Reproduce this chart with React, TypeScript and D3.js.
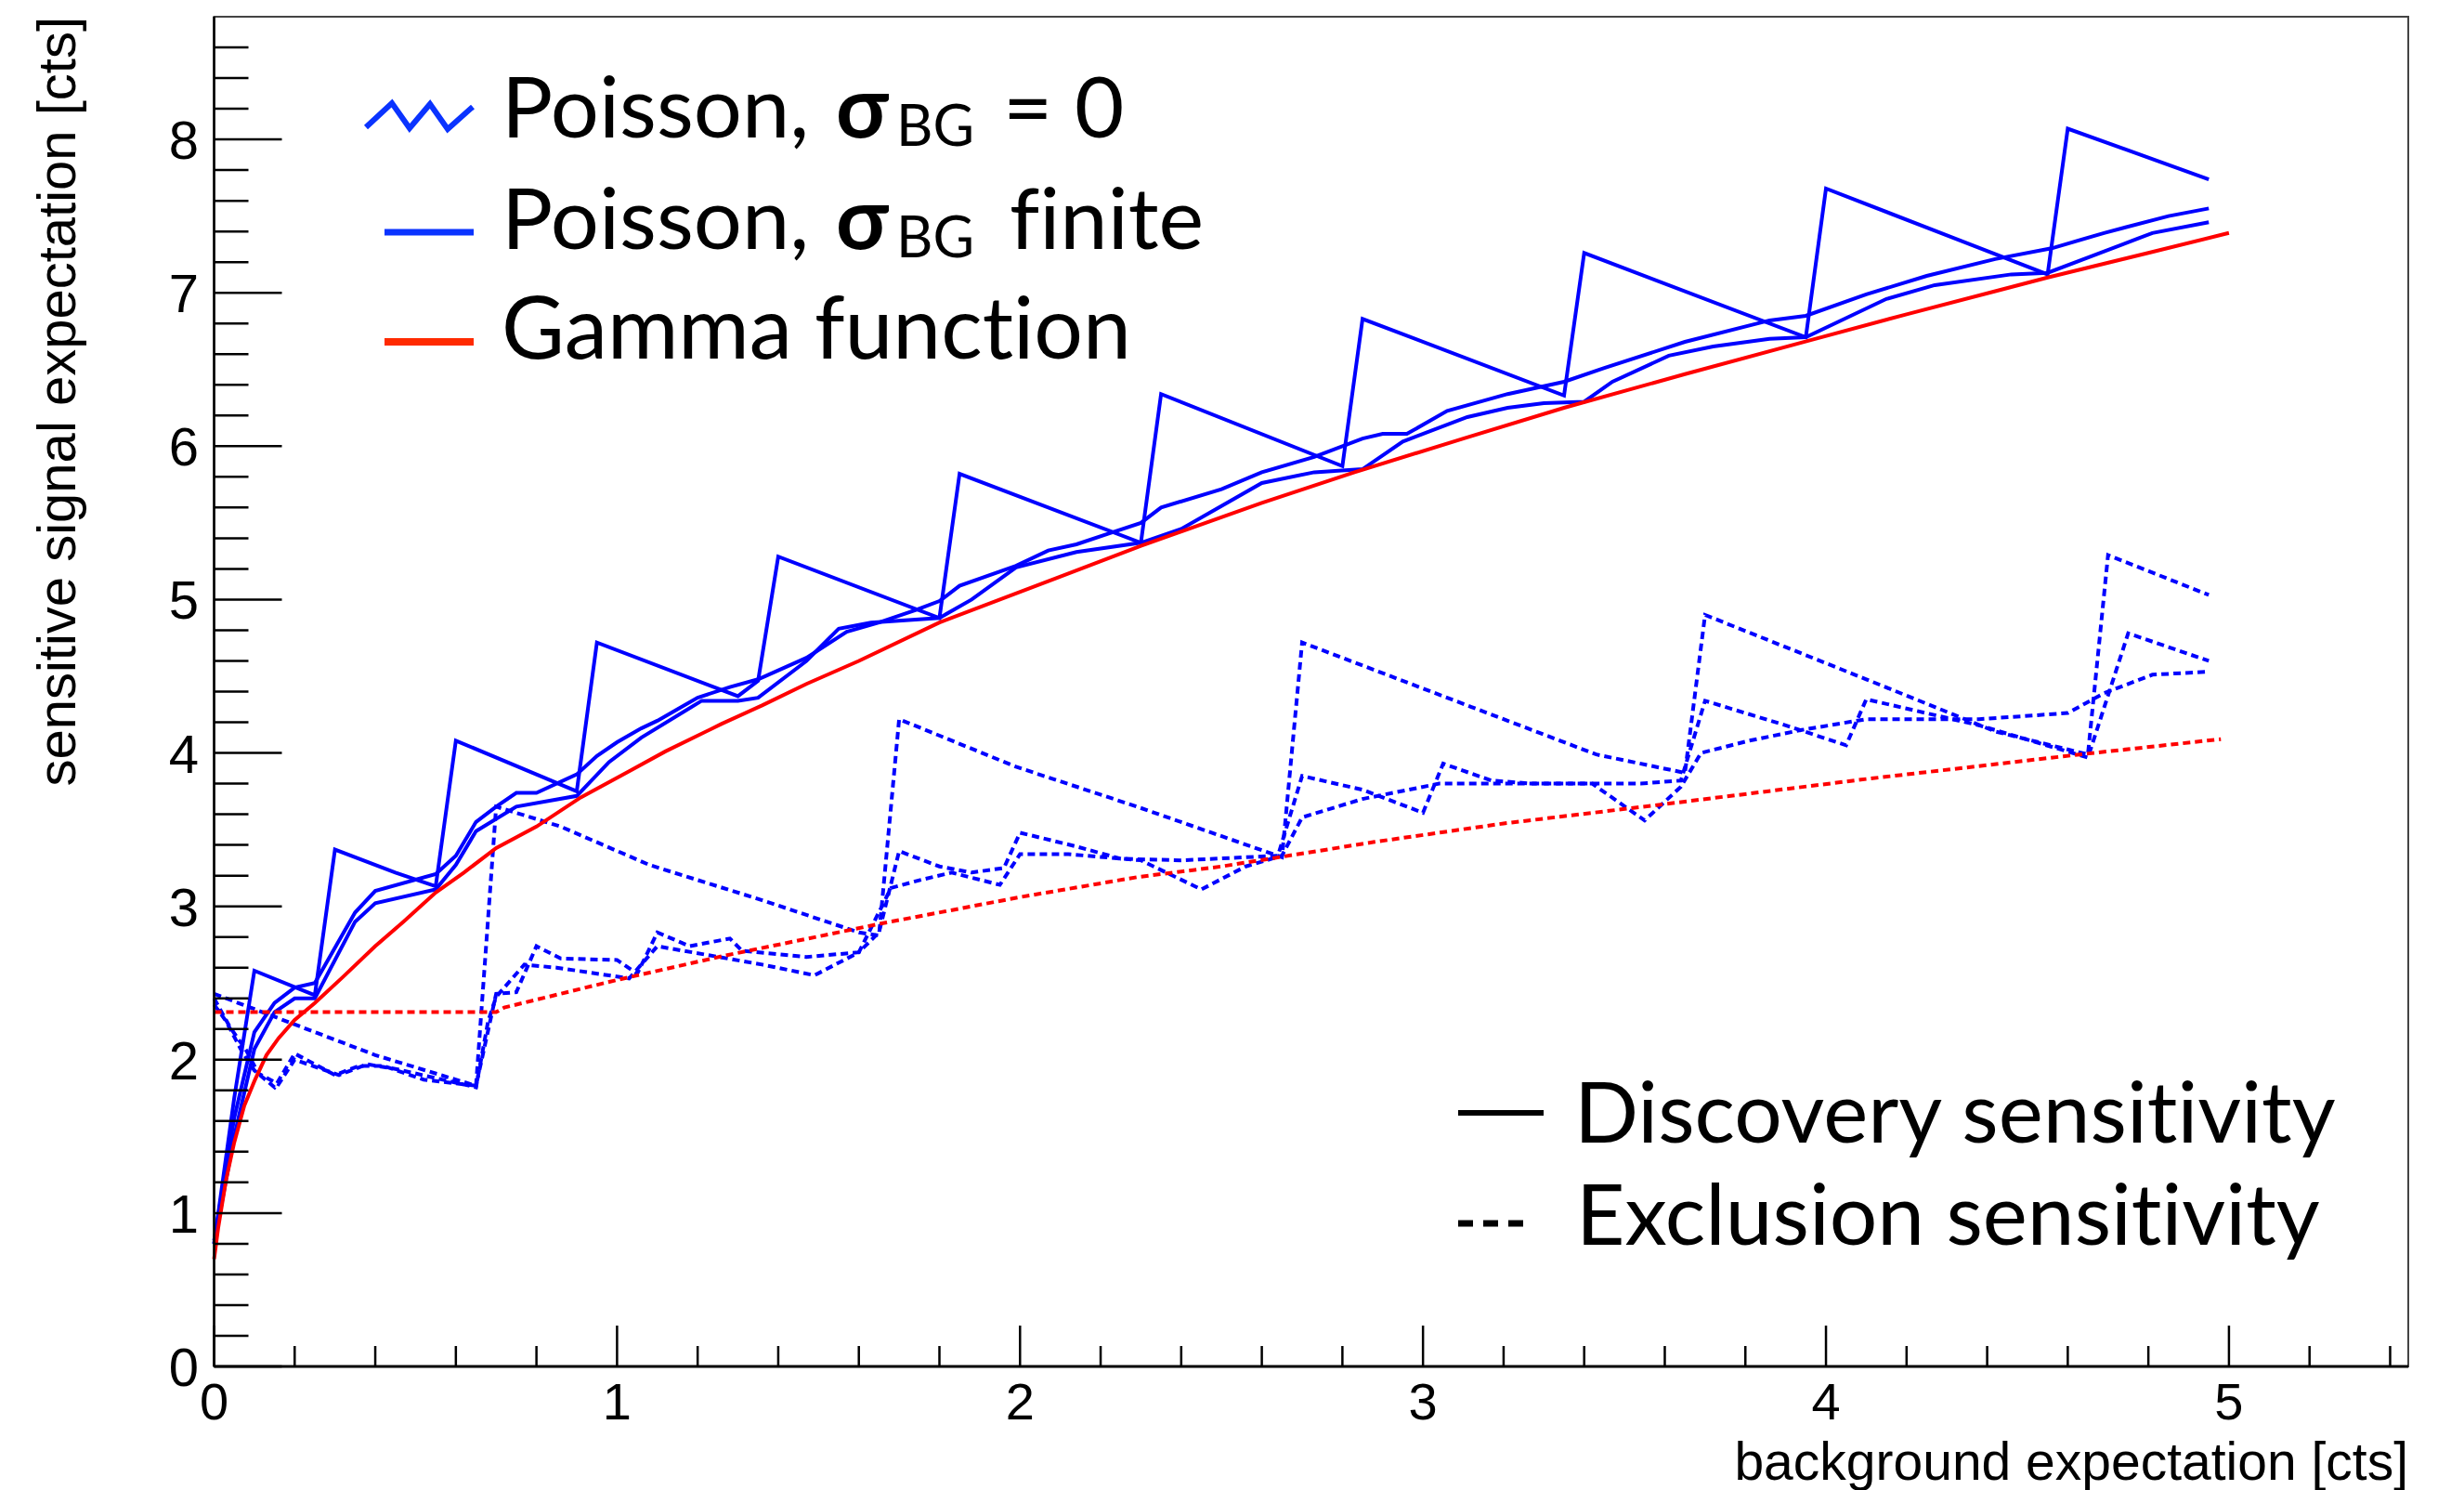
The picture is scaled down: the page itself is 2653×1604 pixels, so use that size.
import React from 'react';
import * as d3 from 'd3';

type Pt = [number, number];

// ---------- axes ----------
const X_DOMAIN: [number, number] = [0, 5.445];
const Y_DOMAIN: [number, number] = [0, 8.8];
const xMajorTicks = [0, 1, 2, 3, 4, 5];
const yMajorTicks = [0, 1, 2, 3, 4, 5, 6, 7, 8];
const MINOR_STEP = 0.2;
const X_TITLE = 'background expectation [cts]';
const Y_TITLE = 'sensitive signal expectation [cts]';

// ---------- data ----------
// Poisson, sigma_BG = 0, discovery (solid sawtooth)
const poissonZeroDiscovery: Pt[] = [
  [0, 0.8], [0.05, 1.75], [0.1, 2.58], [0.25, 2.42], [0.3, 3.37], [0.45, 3.22], [0.55, 3.13],
  [0.6, 4.08], [0.9, 3.75], [0.95, 4.72], [1.3, 4.37], [1.35, 4.47], [1.4, 5.28], [1.8, 4.88],
  [1.85, 5.82], [2.3, 5.37], [2.35, 6.34], [2.8, 5.87], [2.85, 6.83], [3.35, 6.33], [3.4, 7.26],
  [3.95, 6.71], [4.0, 7.68], [4.55, 7.12], [4.6, 8.07], [4.95, 7.74],
];

// Poisson, sigma_BG finite, discovery (two solid curves)
const poissonFiniteDiscoveryA: Pt[] = [
  [0, 0.82], [0.05, 1.62], [0.1, 2.18], [0.15, 2.37], [0.2, 2.47], [0.25, 2.5], [0.35, 2.96],
  [0.4, 3.1], [0.55, 3.21], [0.6, 3.33], [0.65, 3.55], [0.7, 3.65], [0.75, 3.74], [0.8, 3.74],
  [0.9, 3.86], [0.95, 3.98], [1.0, 4.07], [1.06, 4.16], [1.1, 4.21], [1.2, 4.36], [1.28, 4.43],
  [1.35, 4.48], [1.47, 4.62], [1.57, 4.79], [1.65, 4.85], [1.74, 4.93], [1.8, 4.99], [1.85, 5.09],
  [1.99, 5.22], [2.07, 5.32], [2.14, 5.36], [2.22, 5.43], [2.3, 5.5], [2.35, 5.6], [2.5, 5.72],
  [2.6, 5.83], [2.73, 5.93], [2.85, 6.05], [2.9, 6.08], [2.96, 6.08], [3.06, 6.23], [3.21, 6.34],
  [3.35, 6.42], [3.45, 6.51], [3.65, 6.68], [3.86, 6.82], [3.95, 6.85], [4.1, 6.99], [4.25, 7.11],
  [4.42, 7.22], [4.56, 7.29], [4.69, 7.39], [4.85, 7.5], [4.95, 7.55],
];
const poissonFiniteDiscoveryB: Pt[] = [
  [0, 0.8], [0.05, 1.5], [0.1, 2.07], [0.15, 2.31], [0.2, 2.4], [0.25, 2.4], [0.35, 2.9],
  [0.4, 3.02], [0.55, 3.11], [0.6, 3.27], [0.65, 3.49], [0.75, 3.65], [0.9, 3.72], [0.98, 3.94],
  [1.06, 4.1], [1.21, 4.34], [1.3, 4.34], [1.35, 4.36], [1.47, 4.6], [1.55, 4.81], [1.63, 4.85],
  [1.8, 4.88], [1.88, 5.0], [1.99, 5.21], [2.14, 5.31], [2.3, 5.37], [2.4, 5.46], [2.6, 5.76],
  [2.73, 5.83], [2.85, 5.85], [2.95, 6.03], [3.11, 6.19], [3.21, 6.25], [3.3, 6.28], [3.4, 6.29],
  [3.47, 6.42], [3.61, 6.59], [3.72, 6.65], [3.86, 6.7], [3.95, 6.71], [4.15, 6.96], [4.27, 7.05],
  [4.46, 7.12], [4.55, 7.13], [4.66, 7.24], [4.81, 7.39], [4.95, 7.46],
];

// Gamma function, discovery (solid red)
const gammaDiscovery: Pt[] = [
  [0, 0.7], [0.01, 0.9], [0.02, 1.06], [0.03, 1.22], [0.05, 1.46], [0.075, 1.7], [0.1, 1.86],
  [0.13, 2.03], [0.16, 2.14], [0.2, 2.26], [0.25, 2.37], [0.32, 2.54], [0.4, 2.74], [0.47, 2.9],
  [0.55, 3.09], [0.62, 3.22], [0.7, 3.38], [0.8, 3.52], [0.91, 3.71], [1.03, 3.88], [1.12, 4.01],
  [1.26, 4.19], [1.36, 4.31], [1.47, 4.45], [1.6, 4.6], [1.8, 4.85], [2.09, 5.14], [2.3, 5.35],
  [2.6, 5.63], [2.83, 5.83], [3.1, 6.05], [3.35, 6.25], [3.65, 6.47], [3.96, 6.69], [4.2, 6.86],
  [4.42, 7.01], [4.55, 7.1], [4.8, 7.26], [5.0, 7.39],
];

// Poisson, sigma_BG = 0, exclusion (dotted sawtooth)
const poissonZeroExclusion: Pt[] = [
  [0, 2.43], [0.07, 2.36], [0.4, 2.03], [0.65, 1.83], [0.7, 3.65], [0.86, 3.52], [1.08, 3.27],
  [1.36, 3.04], [1.6, 2.83], [1.65, 2.81], [1.7, 4.22], [1.99, 3.91], [2.29, 3.65], [2.65, 3.32],
  [2.7, 4.72], [3.12, 4.3], [3.43, 3.99], [3.65, 3.87], [3.7, 4.9], [4.1, 4.48], [4.42, 4.14],
  [4.65, 3.99], [4.7, 5.29], [4.95, 5.03],
];

// Poisson, sigma_BG finite, exclusion (two dotted curves)
const poissonFiniteExclusionA: Pt[] = [
  [0, 2.36], [0.03, 2.25], [0.07, 2.05], [0.1, 1.93], [0.15, 1.82], [0.2, 2.04], [0.3, 1.9],
  [0.36, 1.96], [0.42, 1.96], [0.52, 1.87], [0.65, 1.83], [0.7, 2.43], [0.75, 2.44], [0.8, 2.74],
  [0.86, 2.66], [1.0, 2.65], [1.05, 2.56], [1.1, 2.83], [1.18, 2.74], [1.28, 2.79], [1.31, 2.71],
  [1.47, 2.67], [1.6, 2.7], [1.65, 2.83], [1.7, 3.36], [1.8, 3.26], [1.88, 3.22], [1.96, 3.25],
  [2.0, 3.48], [2.14, 3.39], [2.25, 3.31], [2.4, 3.3], [2.64, 3.33], [2.7, 3.85], [2.85, 3.76],
  [3.0, 3.61], [3.05, 3.93], [3.17, 3.82], [3.27, 3.8], [3.54, 3.8], [3.64, 3.82], [3.7, 4.34],
  [3.9, 4.18], [4.05, 4.05], [4.1, 4.35], [4.38, 4.18], [4.65, 3.97], [4.75, 4.78], [4.95, 4.6],
];
const poissonFiniteExclusionB: Pt[] = [
  [0, 2.4], [0.04, 2.21], [0.08, 2.06], [0.11, 1.91], [0.16, 1.84], [0.2, 2.0], [0.31, 1.9],
  [0.38, 1.97], [0.45, 1.94], [0.6, 1.85], [0.65, 1.82], [0.68, 2.25], [0.7, 2.41], [0.77, 2.62],
  [0.85, 2.6], [1.03, 2.53], [1.1, 2.74], [1.36, 2.62], [1.49, 2.55], [1.6, 2.7], [1.68, 3.12],
  [1.75, 3.17], [1.83, 3.22], [1.95, 3.14], [2.0, 3.34], [2.12, 3.34], [2.3, 3.3], [2.45, 3.11],
  [2.56, 3.26], [2.65, 3.33], [2.7, 3.58], [2.85, 3.7], [3.04, 3.8], [3.42, 3.8], [3.55, 3.56],
  [3.64, 3.78], [3.69, 4.0], [3.81, 4.08], [3.94, 4.15], [4.1, 4.22], [4.38, 4.22], [4.6, 4.26],
  [4.69, 4.39], [4.81, 4.51], [4.95, 4.53],
];

// Gamma function, exclusion (dotted red)
const gammaExclusion: Pt[] = [
  [0, 2.31], [0.7, 2.31], [0.72, 2.34], [1.0, 2.52], [1.27, 2.68], [1.66, 2.89], [2.0, 3.06],
  [2.29, 3.19], [2.5, 3.26], [2.88, 3.42], [3.2, 3.54], [3.58, 3.66], [4.1, 3.83], [4.63, 3.99],
  [4.98, 4.09],
];

const legendTop = ['Poisson, ', 'Poisson, ', 'Gamma function'];
const legendBottom = ['Discovery sensitivity', 'Exclusion sensitivity'];

// ---------- layout ----------
const W = 2653;
const H = 1604;
const L = 230.5, R = 2593, T = 18, B = 1471;
const BLUE = '#0000ff';
const RED = '#ff0000';
const DOT = '8 5';
const AXIS_FONT = '"Liberation Sans", Arial, Helvetica, sans-serif';
const LEG_FONT = 'Lato, "Noto Sans", "DejaVu Sans", sans-serif';
const noLig = { fontVariantLigatures: 'none' as const, fontFeatureSettings: '"liga" 0, "dlig" 0' };

export default function App() {
  const x = d3.scaleLinear().domain(X_DOMAIN).range([L, R]);
  const y = d3.scaleLinear().domain(Y_DOMAIN).range([B, T]);
  const line = d3.line<Pt>().x((d) => x(d[0])).y((d) => y(d[1]));

  const xMinor = d3.range(0, X_DOMAIN[1] + 1e-9, MINOR_STEP)
    .filter((v) => Math.abs(v - Math.round(v)) > 1e-6);
  const yMinor = d3.range(0, Y_DOMAIN[1] - 1e-6, MINOR_STEP)
    .filter((v) => Math.abs(v - Math.round(v)) > 1e-6);

  const curves: { data: Pt[]; color: string; dashed: boolean }[] = [
    { data: poissonZeroExclusion, color: BLUE, dashed: true },
    { data: poissonFiniteExclusionA, color: BLUE, dashed: true },
    { data: poissonFiniteExclusionB, color: BLUE, dashed: true },
    { data: poissonZeroDiscovery, color: BLUE, dashed: false },
    { data: poissonFiniteDiscoveryA, color: BLUE, dashed: false },
    { data: poissonFiniteDiscoveryB, color: BLUE, dashed: false },
    { data: gammaExclusion, color: RED, dashed: true },
    { data: gammaDiscovery, color: RED, dashed: false },
  ];

  return (
    <svg width={W} height={H} style={{ position: 'absolute', left: 0, top: 0, background: '#fff' }}>
      <rect x={0} y={0} width={W} height={H} fill="#fff" />
      {/* curves */}
      <g fill="none" strokeLinejoin="miter" strokeLinecap="butt">
        {curves.map((c, i) => (
          <path key={i} d={line(c.data) || ''} stroke={c.color} strokeWidth={4}
            strokeDasharray={c.dashed ? DOT : undefined} />
        ))}
      </g>
      {/* frame */}
      <rect x={L} y={T} width={R - L} height={B - T} fill="none" stroke="#444" strokeWidth={2} />
      <line x1={L} x2={L} y1={T} y2={B} stroke="#000" strokeWidth={2.5} />
      <line x1={L} x2={R} y1={B} y2={B} stroke="#000" strokeWidth={3} />
      {/* ticks */}
      <g stroke="#000" strokeWidth={2.5}>
        {yMajorTicks.map((v) => (
          <line key={'ym' + v} x1={L} x2={L + 73} y1={y(v)} y2={y(v)} />
        ))}
        {yMinor.map((v, i) => (
          <line key={'yn' + i} x1={L} x2={L + 37} y1={y(v)} y2={y(v)} />
        ))}
        {xMajorTicks.map((v) => (
          <line key={'xm' + v} x1={x(v)} x2={x(v)} y1={B} y2={B - 44} />
        ))}
        {xMinor.map((v, i) => (
          <line key={'xn' + i} x1={x(v)} x2={x(v)} y1={B} y2={B - 22} />
        ))}
      </g>
      {/* tick labels */}
      <g fontFamily={AXIS_FONT} fill="#000">
        {yMajorTicks.map((v) => (
          <text key={'yl' + v} x={214} y={y(v) + 21} textAnchor="end" fontSize={58}>{v}</text>
        ))}
        {xMajorTicks.map((v) => (
          <text key={'xl' + v} x={x(v)} y={1528} textAnchor="middle" fontSize={56}>{v}</text>
        ))}
        <text x={R} y={1593} textAnchor="end" fontSize={57}>{X_TITLE}</text>
        <text transform={`translate(81, ${T}) rotate(-90)`} textAnchor="end" fontSize={58}>{Y_TITLE}</text>
      </g>
      {/* top legend */}
      <g fontFamily={LEG_FONT} fill="#000" style={noLig}>
        <polyline points="394,137 422,111 441,138 463,112 482,139 509,115" fill="none"
          stroke="#0a33ff" strokeWidth={6} />
        <line x1={414} x2={510} y1={250} y2={250} stroke="#0a33ff" strokeWidth={7} />
        <line x1={414} x2={510} y1={368} y2={368} stroke="#ff2a00" strokeWidth={8} />
        <text y={148} fontSize={92}>
          <tspan x={540}>{legendTop[0]}</tspan>
          <tspan x={900} fontWeight="bold">σ</tspan>
          <tspan x={965} y={157} fontSize={61}>BG</tspan>
          <tspan x={1080} y={148}>= 0</tspan>
        </text>
        <text y={268} fontSize={92}>
          <tspan x={540}>{legendTop[1]}</tspan>
          <tspan x={900} fontWeight="bold">σ</tspan>
          <tspan x={965} y={277} fontSize={61}>BG</tspan>
          <tspan x={1087} y={268}>finite</tspan>
        </text>
        <text x={540} y={386} fontSize={93}>{legendTop[2]}</text>
      </g>
      {/* bottom legend */}
      <g fontFamily={LEG_FONT} fill="#000" style={noLig}>
        <line x1={1570} x2={1662} y1={1198} y2={1198} stroke="#000" strokeWidth={6} />
        <line x1={1570} x2={1650} y1={1317} y2={1317} stroke="#000" strokeWidth={7}
          strokeDasharray="16 11" />
        <text x={1695} y={1230} fontSize={91}>{legendBottom[0]}</text>
        <text x={1697} y={1340} fontSize={91}>{legendBottom[1]}</text>
      </g>
    </svg>
  );
}
